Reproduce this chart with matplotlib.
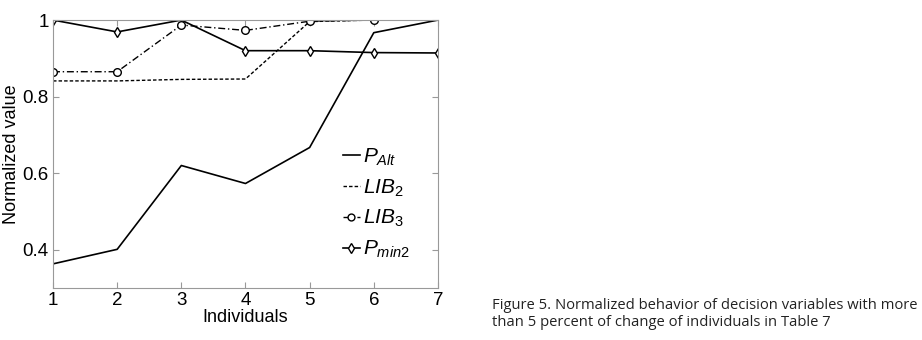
import matplotlib
matplotlib.use("Agg")
import matplotlib.pyplot as plt

individuals = [1, 2, 3, 4, 5, 6, 7]
p_alt = [0.363, 0.401, 0.620, 0.573, 0.667, 0.967, 1.000]
lib2 = [0.841, 0.841, 0.845, 0.846, 0.996, 1.000, 1.000]
lib3 = [0.865, 0.865, 0.987, 0.973, 0.997, 1.000, 1.000]
p_min2 = [1.000, 0.969, 1.000, 0.920, 0.920, 0.915, 0.914]
lib3_marks = [0, 1, 2, 3, 4, 5]
pmin2_marks = [0, 1, 3, 4, 5, 6]
yticks = [0.4, 0.6, 0.8, 1.0]
ytick_labels = ["0.4", "0.6", "0.8", "1"]
caption = ("Figure 5. Normalized behavior of decision variables with more\n"
           "than 5 percent of change of individuals in Table 7")

plt.rcParams['font.family'] = ['Liberation Sans', 'DejaVu Sans']
plt.rcParams['mathtext.fontset'] = 'custom'
plt.rcParams['mathtext.it'] = 'Liberation Sans:italic'
plt.rcParams['mathtext.rm'] = 'Liberation Sans'

fig = plt.figure(figsize=(9.22, 3.40), dpi=100)
ax = fig.add_axes([0.0575, 0.153, 0.4175, 0.788])

ax.plot(individuals, p_alt, color='black', lw=1.2, ls='-', label=r'$P_{Alt}$')
ax.plot(individuals, lib2, color='black', lw=1.0, ls=(0, (2.5, 1.5)), label=r'$LIB_2$')
ax.plot(individuals, lib3, color='black', lw=1.0, ls=(0, (5, 2, 1, 2)), marker='o',
        markevery=lib3_marks, ms=5.5, mfc='white', mec='black', mew=1.0, label=r'$LIB_3$')
ax.plot(individuals, p_min2, color='black', lw=1.2, ls='-', marker='d',
        markevery=pmin2_marks, ms=5.5, mfc='white', mec='black', mew=1.0, label=r'$P_{min2}$')

ax.set_xlim(1, 7)
ax.set_ylim(0.3, 1.0)
ax.set_xticks(individuals)
ax.set_yticks(yticks)
ax.set_yticklabels(ytick_labels)
ax.tick_params(direction='in', top=True, right=True, labelsize=13.5, length=4,
               color='#999999', pad=3)
for s in ax.spines.values():
    s.set_color('#999999')
    s.set_linewidth(0.8)
ax.set_xlabel('Individuals', fontsize=13, labelpad=0)
ax.set_ylabel('Normalized value', fontsize=13, labelpad=2)

leg = ax.legend(loc='upper left', bbox_to_anchor=(0.753, 0.527), frameon=False,
                fontsize=15, handlelength=0.8, handletextpad=0.15, labelspacing=0.45,
                borderaxespad=0, borderpad=0, markerscale=0.9)

fig.text(0.534, 0.03, caption, fontsize=10.6, family=['Open Sans', 'DejaVu Sans'],
         va='bottom', ha='left', linespacing=1.2, color='#222222')

fig.savefig('out.png', dpi=100)
